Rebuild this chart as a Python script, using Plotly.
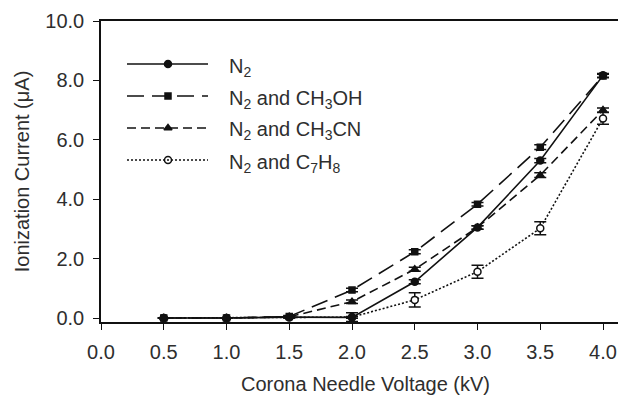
import plotly.graph_objects as go

voltage = [0.5, 1.0, 1.5, 2.0, 2.5, 3.0, 3.5, 4.0]

n2 = [0.0, 0.0, 0.03, 0.02, 1.22, 3.05, 5.30, 8.17]
n2_err = [0.0, 0.0, 0.02, 0.03, 0.07, 0.06, 0.07, 0.06]

meoh = [0.0, 0.0, 0.05, 0.94, 2.23, 3.83, 5.75, 8.15]
meoh_err = [0.0, 0.0, 0.03, 0.06, 0.07, 0.06, 0.08, 0.06]

mecn = [0.0, 0.0, 0.04, 0.55, 1.64, 3.05, 4.81, 7.00]
mecn_err = [0.0, 0.0, 0.03, 0.06, 0.07, 0.06, 0.08, 0.07]

tol = [0.0, 0.0, 0.02, 0.03, 0.61, 1.56, 3.02, 6.72]
tol_err = [0.0, 0.0, 0.02, 0.15, 0.24, 0.22, 0.22, 0.2]

names = ["N<sub>2</sub>", "N<sub>2</sub> and CH<sub>3</sub>OH",
         "N<sub>2</sub> and CH<sub>3</sub>CN", "N<sub>2</sub> and C<sub>7</sub>H<sub>8</sub>"]

x_ticks = [0.0, 0.5, 1.0, 1.5, 2.0, 2.5, 3.0, 3.5, 4.0]
y_ticks = [0.0, 2.0, 4.0, 6.0, 8.0, 10.0]

x_title = "Corona Needle Voltage (kV)"
y_title = "Ionization Current (\u03bcA)"

FONT = "Liberation Sans, Arial, sans-serif"
INK = "#111111"
TXT = "#2e2e2e"

styles = [
    dict(dash="solid", symbol="circle", size=7, fill=INK),
    dict(dash="17px,8px", symbol="square", size=6, fill=INK),
    dict(dash="9px,5px", symbol="triangle-up", size=7, fill=INK),
    dict(dash="2px,2px", symbol="circle", size=7, fill="white"),
]
series = [(n2, n2_err), (meoh, meoh_err), (mecn, mecn_err), (tol, tol_err)]

fig = go.Figure()
order = [3, 2, 1, 0]
for i in order:
    vals, err = series[i]
    st = styles[i]
    fig.add_trace(go.Scatter(
        x=voltage, y=vals, mode="lines+markers", name=names[i], showlegend=False,
        line=dict(color=INK, width=1.6, dash=st["dash"]),
        marker=dict(symbol=st["symbol"], size=st["size"],
                    color=st["fill"], line=dict(color=INK, width=1.5)),
        error_y=dict(type="data", array=err, visible=True, color=INK,
                     thickness=1.5, width=6),
        cliponaxis=False,
    ))

# The page body has an 8px margin; work in window pixel coordinates.
OFF = 8
WIN_W, WIN_H = 626, 396
W, H = WIN_W - OFF, WIN_H - OFF
L, T, R, B = 101, 21, 626, 322          # plot area in window pixels
def px(xp):
    return (xp - L) / (R - L)
def py(yp):
    return (B - yp) / (B - T)

rows = [64, 96, 128, 160]
shapes = []
for i, yr in enumerate(rows):
    st = styles[i]
    shapes.append(dict(type="line", xref="paper", yref="paper",
                       x0=px(127), x1=px(208), y0=py(yr), y1=py(yr),
                       line=dict(color=INK, width=1.6, dash=st["dash"])))
    fig.add_trace(go.Scatter(
        x=[px(168)], y=[py(yr)], xaxis="x2", yaxis="y2", mode="markers",
        showlegend=False, hoverinfo="skip",
        marker=dict(symbol=st["symbol"], size=st["size"],
                    color=st["fill"], line=dict(color=INK, width=1.5)),
    ))
    fig.add_annotation(x=px(227), y=py(yr + 3), xref="paper", yref="paper",
                       text=names[i], showarrow=False, xanchor="left", yanchor="middle",
                       font=dict(family=FONT, size=20, color=TXT))

# x-axis title, kept fully inside the page
fig.add_annotation(x=px(365), y=py(384), xref="paper", yref="paper",
                   text=x_title, showarrow=False, xanchor="center", yanchor="middle",
                   font=dict(family=FONT, size=20, color=TXT))

fig.update_layout(
    width=W, height=H,
    margin=dict(l=L - OFF, r=WIN_W - R, t=T - OFF, b=WIN_H - B, pad=0),
    paper_bgcolor="white", plot_bgcolor="white",
    font=dict(family=FONT, size=20, color=TXT),
    shapes=shapes,
    xaxis=dict(range=[0, (R - L) / 125.5], tickvals=x_ticks,
               ticktext=[f"{v:.1f}" for v in x_ticks],
               ticks="outside", ticklen=6, tickwidth=1.2, tickcolor=INK,
               tickfont=dict(size=20), ticklabelstandoff=5,
               showline=True, linecolor=INK, linewidth=1.5, mirror=True,
               showgrid=False, zeroline=False, automargin=False),
    yaxis=dict(range=[-4 / 29.7, 10], tickvals=y_ticks,
               ticktext=[f"{v:.1f}" for v in y_ticks],
               ticks="outside", ticklen=6, tickwidth=1.2, tickcolor=INK,
               tickfont=dict(size=20), ticklabelstandoff=5,
               showline=True, linecolor=INK, linewidth=1.5,
               showgrid=False, zeroline=False, automargin=False,
               title=dict(text=y_title, standoff=10, font=dict(size=20))),
    xaxis2=dict(overlaying="x", range=[0, 1], visible=False),
    yaxis2=dict(overlaying="y", range=[0, 1], visible=False),
)

fig.write_html("out.html")
